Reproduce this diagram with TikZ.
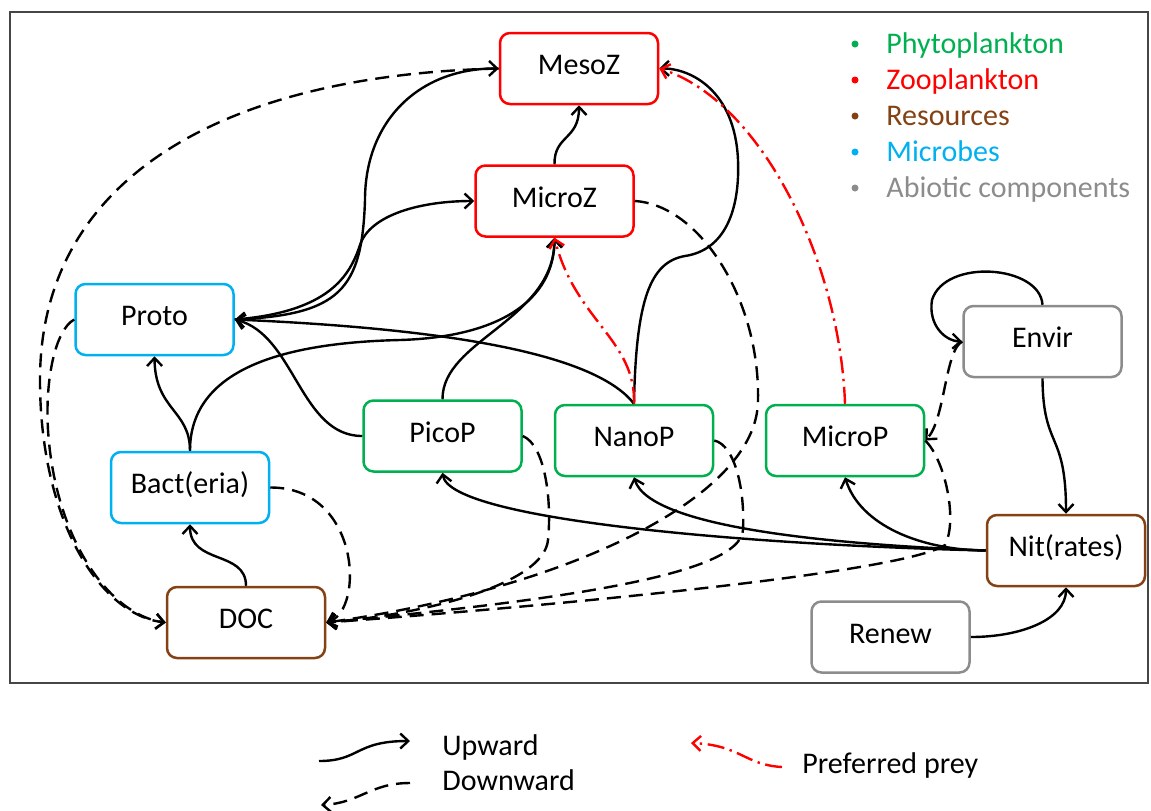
\documentclass[tikz,border=0pt]{standalone}
\usepackage{fontspec}
\setmainfont{Carlito}
\usetikzlibrary{arrows.meta}
\definecolor{cgreen}{RGB}{0,176,80}
\definecolor{cred}{RGB}{255,0,0}
\definecolor{cbrown}{RGB}{132,66,20}
\definecolor{cblue}{RGB}{0,176,240}
\definecolor{cgrey}{RGB}{140,140,140}
\definecolor{cframe}{RGB}{70,70,70}
\newcommand\diafont{\fontsize{15}{18}\selectfont}
\begin{document}
\begin{tikzpicture}[x=0.5pt,y=-0.5pt,
  box/.style={draw, line width=1.25pt, rounded corners=5pt, minimum width=79pt,
    minimum height=35.5pt, inner sep=0pt, text height=0.644em, text depth=0pt, font=\diafont},
  legtext/.style={inner sep=0pt, anchor=base west, font=\diafont},
  up/.style={line width=1.2pt, -{Straight Barb[length=4pt,width=7.5pt]}},
  down/.style={up, dash pattern=on 7pt off 4pt},
  pref/.style={up, cred, dash pattern=on 8.5pt off 2.8pt on 1.2pt off 2.8pt},
  frame/.style={draw=cframe, line width=0.8pt}
]
\useasboundingbox (0,0) rectangle (1151,810);
\draw[frame] (10,12) rectangle (1148,683);

% nodes
\node[box, draw=cred] (MesoZ) at (579,68.5) {MesoZ};
\node[box, draw=cred] (MicroZ) at (554.5,201) {MicroZ};
\node[box, draw=cblue] (Proto) at (154.5,319.5) {Proto};
\node[box, draw=cblue] (Bact) at (190,487.5) {Bact(eria)};
\node[box, draw=cbrown] (DOC) at (246,622.5) {DOC};
\node[box, draw=cgreen] (PicoP) at (442.5,436) {PicoP};
\node[box, draw=cgreen] (NanoP) at (634,440.5) {NanoP};
\node[box, draw=cgreen] (MicroP) at (845,440.5) {MicroP};
\node[box, draw=cgrey] (Envir) at (1042.5,341.5) {Envir};
\node[box, draw=cbrown] (Nit) at (1066,550.5) {Nit(rates)};
\node[box, draw=cgrey] (Renew) at (890.5,637) {Renew};

% upward (solid)
\draw[up] (MicroZ.north) .. controls (554,135) and (579,140) .. (MesoZ.south);
\draw[up] (Proto.east) .. controls (340,315) and (362,290) .. (365,200) .. controls (365,120) and (420,68) .. (MesoZ.west);
\draw[up] (Proto.east) .. controls (330,312) and (350,275) .. (360,245) .. controls (370,215) and (420,201) .. (MicroZ.west);
\draw[up] (PicoP.west) .. controls (300,436) and (295,335) .. (Proto.east);
\draw[up] (NanoP.north) .. controls (600,360) and (480,330) .. (Proto.east);
\draw[up] (Bact.north) .. controls (190,410) and (155,410) .. (Proto.south);
\draw[up] (Bact.north) .. controls (190,375) and (270,343) .. (400,340) .. controls (500,337) and (554,300) .. (MicroZ.south);
\draw[up] (PicoP.north) .. controls (442,340) and (554,320) .. (MicroZ.south);
\draw[up] (NanoP.north) .. controls (636,300) and (650,262) .. (685,256) .. controls (725,250) and (740,210) .. (738,160) .. controls (735,90) and (690,68) .. (MesoZ.east);
\draw[up] (Nit.west) .. controls (750,545) and (450,520) .. (PicoP.south);
\draw[up] (Nit.west) .. controls (850,545) and (650,530) .. (NanoP.south);
\draw[up] (Nit.west) .. controls (920,550) and (860,525) .. (MicroP.south);
\draw[up] (DOC.north) .. controls (246,550) and (190,565) .. (Bact.south);
\draw[up] (Envir.south) .. controls (1043,450) and (1066,430) .. (Nit.north);
\draw[up] (Envir.north) .. controls (1040,265) and (945,258) .. (932,300) .. controls (928,325) and (945,341) .. (Envir.west);
\draw[up] (Renew.east) .. controls (1020,637) and (1066,620) .. (Nit.south);

% preferred prey
\draw[pref] (NanoP.north) .. controls (636,340) and (575,320) .. (MicroZ.south);
\draw[pref] (MicroP.north) .. controls (840,260) and (760,100) .. (MesoZ.east);

% downward (dashed)
\draw[down] (MesoZ.west) .. controls (220,75) and (40,180) .. (40,380) .. controls (40,520) and (100,615) .. (DOC.west);
\draw[down] (Proto.west) .. controls (55,330) and (45,380) .. (48,430) .. controls (55,540) and (110,615) .. (DOC.west);
\draw[down] (Bact.east) .. controls (360,487) and (365,610) .. (DOC.east);
\draw[down] (PicoP.east) .. controls (545,445) and (552,500) .. (548,540) .. controls (544,585) and (420,615) .. (DOC.east);
\draw[down] (NanoP.east) .. controls (735,445) and (745,490) .. (743,530) .. controls (740,575) and (560,600) .. (DOC.east);
\draw[down] (MicroZ.east) .. controls (700,205) and (760,300) .. (758,400) .. controls (758,500) and (560,590) .. (DOC.east);
\draw[down] (MicroP.east) .. controls (945,460) and (958,520) .. (945,545) .. controls (900,575) and (500,610) .. (DOC.east);
\draw[down] (Envir.west) .. controls (945,350) and (945,420) .. (MicroP.east);

% colour legend
\fill[cgreen] (855,44) circle (1.75pt);
\node[legtext, text=cgreen] (lphy) at (886,53) {Phytoplankton};
\fill[cred] (855,80) circle (1.75pt);
\node[legtext, text=cred] (lzoo) at (886,89) {Zooplankton};
\fill[cbrown] (855,116) circle (1.75pt);
\node[legtext, text=cbrown] (lres) at (886,125) {Resources};
\fill[cblue] (855,152) circle (1.75pt);
\node[legtext, text=cblue] (lmic) at (886,161) {Microbes};
\fill[cgrey] (855,188) circle (1.75pt);
\node[legtext, text=cgrey] (labi) at (886,197) {Abiotic components};

% line legend
\coordinate (uA) at (319,761); \coordinate (uB) at (410,741);
\draw[up] (uA) .. controls (360,761) and (355,741) .. (uB);
\node[legtext] (lup) at (442,755) {Upward};
\coordinate (dA) at (410,783); \coordinate (dB) at (321,805);
\draw[down] (dA) .. controls (370,783) and (360,803) .. (dB);
\node[legtext] (ldown) at (442,790) {Downward};
\coordinate (pA) at (782,767); \coordinate (pB) at (691,743);
\draw[pref] (pA) .. controls (745,765) and (740,745) .. (pB);
\node[legtext] (lpref) at (802,773) {Preferred prey};
\end{tikzpicture}
\end{document}
